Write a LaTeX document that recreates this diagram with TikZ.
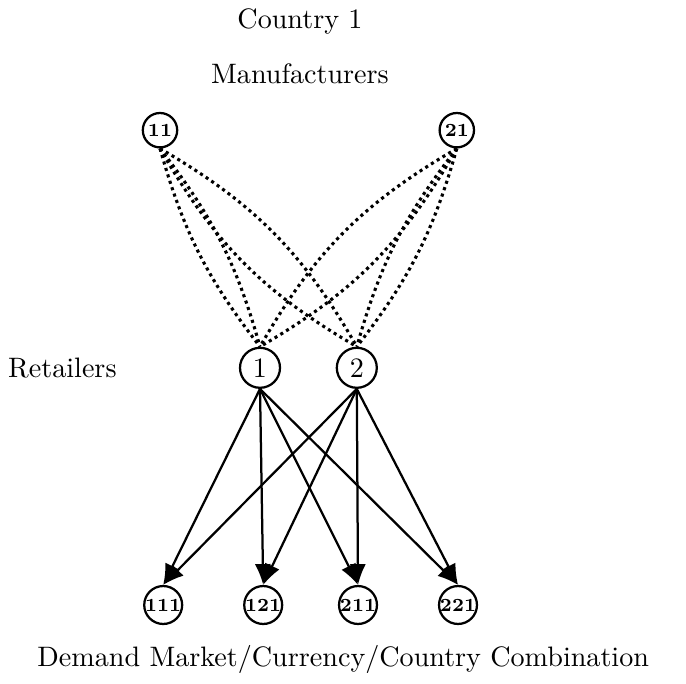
\documentclass[tikz,border=0pt]{standalone}
\usepackage{fontspec}
\usepackage{tikz}
\usetikzlibrary{arrows.meta}

\begin{document}
\begin{tikzpicture}[
    mfg/.style={circle, draw, thick, inner sep=0pt, minimum size=0.43cm, font=\fontsize{6.6}{7.5}\selectfont\bfseries},
    ret/.style={circle, draw, thick, inner sep=0pt, minimum size=0.5cm},
    dem/.style={circle, draw, thick, inner sep=0pt, minimum size=0.43cm, font=\fontsize{6.6}{7.5}\selectfont\bfseries},
    link/.style={line width=1.1pt, dash pattern=on 1.1pt off 1.3pt},
    flow/.style={thick, -{Latex[length=2.6mm, width=2mm]}}
]
    \useasboundingbox (0,0) rectangle (8.575,8.5375);

    % Labels
    \node (country) at (3.75,8.27) {Country 1};
    \node (mfglabel) at (3.75,7.62) {Manufacturers};
    \node (retlabel) at (0.78,3.94) {Retailers};
    \node (demlabel) at (4.29,0.29) {Demand Market/Currency/Country Combination};

    % Manufacturers
    \node[mfg] (m11) at (2.0,6.91) {11};
    \node[mfg] (m21) at (5.71,6.91) {21};

    % Retailers
    \node[ret] (r1) at (3.25,3.94) {1};
    \node[ret] (r2) at (4.46,3.94) {2};

    % Demand markets
    \foreach \name/\x in {111/2.04, 121/3.29, 211/4.475, 221/5.725}
        \node[dem] (d\name) at (\x,0.975) {\name};

    % Dotted links, two per pair
    \foreach \m/\r/\b in {m11/r1/11, m11/r2/15, m21/r1/15, m21/r2/11} {
        \draw[link] (\m.south) to[bend left=\b] (\r.north);
        \draw[link] (\m.south) to[bend right=\b] (\r.north);
    }

    % Flows to demand markets
    \foreach \r in {r1,r2}
        \foreach \d in {d111,d121,d211,d221}
            \draw[flow] (\r.south) -- (\d.north);
\end{tikzpicture}
\end{document}
